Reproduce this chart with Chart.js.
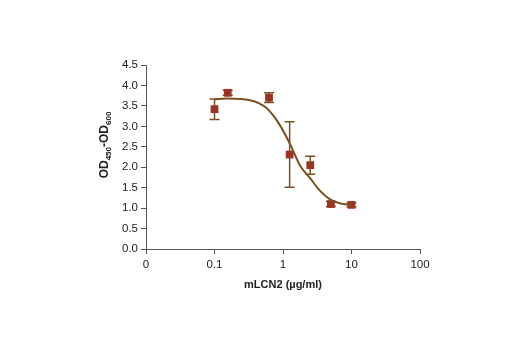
<!DOCTYPE html>
<html>
<head>
<meta charset="utf-8">
<script src="https://cdn.jsdelivr.net/npm/chart.js@4.4.1/dist/chart.umd.min.js"></script>
<style>
  html, body { margin: 0; padding: 0; background: #fff; }
  #wrap { width: 520px; height: 350px; }
</style>
</head>
<body>
<div id="wrap"><canvas id="cv" width="520" height="350"></canvas></div>
<script>
// ── mLCN2 dose response: mean OD with SD bars, fitted curve ──────────────────

const doses    = [0.1, 0.156, 0.625, 1.25, 2.5, 5, 10];
const odMean   = [3.42, 3.82, 3.70, 2.31, 2.05, 1.10, 1.08];
const odErr    = [0.25, 0.06, 0.12, 0.80, 0.22, 0.06, 0.05];

// fitted curve, read along its path
const fitX = [0.1, 0.155, 0.33, 0.58, 0.9, 1.29, 1.76, 2.5, 3.4, 4.8, 6.7, 10];
const fitY = [3.66, 3.68, 3.64, 3.44, 3.03, 2.54, 2.05, 1.73, 1.44, 1.22, 1.12, 1.08];

const xTickValues = [0.01, 0.1, 1, 10, 100];
const xTickLabels = ['0', '0.1', '1', '10', '100'];

const FONT = "'Liberation Sans', Arial, sans-serif";
const MARK = '#9a3423';
const LINE = '#7a5020';

// error bars under the markers
const errorBars = {
  id: 'errorBars',
  beforeDatasetsDraw(chart) {
    const { ctx, scales: { x, y } } = chart;
    ctx.save();
    ctx.strokeStyle = LINE;
    ctx.lineWidth = 1.5;
    doses.forEach((d, i) => {
      const px = x.getPixelForValue(d);
      const top = y.getPixelForValue(odMean[i] + odErr[i]);
      const bot = y.getPixelForValue(odMean[i] - odErr[i]);
      ctx.beginPath();
      ctx.moveTo(px, top); ctx.lineTo(px, bot);
      ctx.moveTo(px - 5, top); ctx.lineTo(px + 5, top);
      ctx.moveTo(px - 5, bot); ctx.lineTo(px + 5, bot);
      ctx.stroke();
    });
    ctx.restore();
  }
};

// rotated y title with subscripts
const yTitle = {
  id: 'yTitle',
  afterDraw(chart) {
    const { ctx } = chart;
    const parts = [['OD', false], ['450', true], ['-OD', false], ['600', true]];
    const big = 'bold 12px ' + FONT, small = 'bold 8px ' + FONT;
    ctx.save();
    let total = 0;
    parts.forEach(([t, sub]) => { ctx.font = sub ? small : big; total += ctx.measureText(t).width; });
    ctx.translate(108, 145);
    ctx.rotate(-Math.PI / 2);
    ctx.fillStyle = '#222';
    ctx.textBaseline = 'alphabetic';
    let cx = -total / 2;
    parts.forEach(([t, sub]) => {
      ctx.font = sub ? small : big;
      ctx.fillText(t, cx, sub ? 3 : 0);
      cx += ctx.measureText(t).width;
    });
    ctx.restore();
  }
};

new Chart(document.getElementById('cv').getContext('2d'), {
  type: 'scatter',
  data: {
    datasets: [
      {
        type: 'line',
        data: fitX.map((v, i) => ({ x: v, y: fitY[i] })),
        borderColor: LINE, borderWidth: 2, pointRadius: 0,
        cubicInterpolationMode: 'monotone', fill: false, order: 0
      },
      {
        data: doses.map((v, i) => ({ x: v, y: odMean[i] })),
        pointStyle: 'rect', pointRadius: 5.5, pointHoverRadius: 5.5,
        backgroundColor: MARK, borderColor: MARK, borderWidth: 0, order: 1
      }
    ]
  },
  options: {
    responsive: false, animation: false,
    layout: { padding: { top: 65, right: 100, left: 0, bottom: 58 } },
    plugins: { legend: { display: false }, tooltip: { enabled: false } },
    scales: {
      x: {
        type: 'logarithmic', min: 0.01, max: 100,
        afterBuildTicks: s => { s.ticks = xTickValues.map(v => ({ value: v })); },
        afterFit: s => { s.height = 43; },
        grid: { display: true, drawOnChartArea: false, drawTicks: true, tickLength: 5, color: '#555' },
        border: { display: true, color: '#555', width: 1 },
        ticks: {
          autoSkip: false, maxRotation: 0, color: '#222', padding: 4,
          font: { family: FONT, size: 11.5 },
          callback: (v) => xTickLabels[xTickValues.indexOf(v)] ?? ''
        },
        title: { display: true, text: 'mLCN2 (µg/ml)', color: '#222', padding: { top: 0, bottom: 0 }, font: { family: FONT, size: 11, weight: 'bold' } }
      },
      y: {
        min: 0, max: 4.5,
        afterFit: s => { s.width = 146; },
        grid: { display: true, drawOnChartArea: false, drawTicks: true, tickLength: 5, color: '#555' },
        border: { display: true, color: '#555', width: 1 },
        ticks: {
          stepSize: 0.5, color: '#222', padding: 3,
          font: { family: FONT, size: 11.5 },
          callback: v => v.toFixed(1)
        }
      }
    }
  },
  plugins: [errorBars, yTitle]
});
</script>
</body>
</html>
